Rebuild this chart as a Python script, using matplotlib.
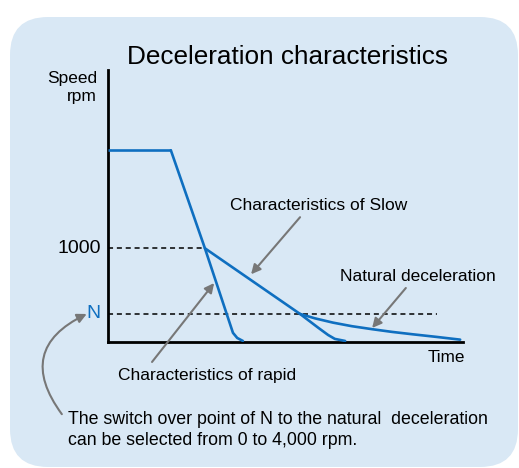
import matplotlib
matplotlib.use("Agg")
import matplotlib.pyplot as plt
from matplotlib.patches import FancyBboxPatch, FancyArrowPatch
from matplotlib.transforms import IdentityTransform

plt.rcParams['font.family'] = ['Liberation Sans', 'DejaVu Sans']

# values (time in arbitrary units 0-100, speed in rpm)
top_speed = 2050
switch_speed = 1000
n_speed = 300

flat_t = [0, 17.7]
flat_s = [top_speed, top_speed]

rapid_t = [17.7, 27.3, 35.2, 36.4, 38.0]
rapid_s = [top_speed, 1000, 95, 40, 8]

slow_t = [27.3, 54.1, 59.2, 62.0, 63.9, 66.8]
slow_s = [1000, 297, 150, 72, 30, 8]

natural_t = [54.1, 58.3, 63.4, 68.7, 74.4, 80.0, 85.9, 92.4, 99.2]
natural_s = [297, 250, 204, 166, 134, 105, 79, 52, 22]

n_dash_end = 92.6

blue = '#0f6fc0'
grey = '#777777'
bg = '#d9e8f5'

fig = plt.figure(figsize=(5.19, 4.68), dpi=100)
fig.patch.set_facecolor('white')

# rounded light blue panel (pixel coords, origin bottom left)
panel = FancyBboxPatch((10, 1), 508, 450,
                       boxstyle="round,pad=0,rounding_size=38",
                       transform=IdentityTransform(), facecolor=bg,
                       edgecolor='none', zorder=-5)
fig.patches.append(panel)

ax = fig.add_axes([108 / 519, (468 - 341.7) / 468, 355 / 519, (341.7 - 70) / 468])
ax.set_zorder(2)
ax.set_xlim(0, 100)
ax.set_ylim(0, 2909)
ax.patch.set_alpha(0)
for s in ['top', 'right']:
    ax.spines[s].set_visible(False)
for s in ['left', 'bottom']:
    ax.spines[s].set_linewidth(2.0)
    ax.spines[s].set_color('black')
ax.set_xticks([])
ax.set_yticks([])

# dashed reference lines
ax.plot([0, rapid_t[1]], [switch_speed, switch_speed], color='black', lw=1.1,
        linestyle=(0, (3.3, 2.5)), zorder=2)
ax.plot([0, n_dash_end], [n_speed, n_speed], color='black', lw=1.1,
        linestyle=(0, (3.3, 2.5)), zorder=2)

# curves
ax.plot(flat_t, flat_s, color=blue, lw=1.9, solid_capstyle='butt', zorder=3)
ax.plot(rapid_t, rapid_s, color=blue, lw=1.9, solid_capstyle='round', zorder=3)
ax.plot(slow_t, slow_s, color=blue, lw=1.9, solid_capstyle='round', zorder=3)
ax.plot(natural_t, natural_s, color=blue, lw=1.9, solid_capstyle='round', zorder=3)

# title and axis texts
fig.text(288 / 519, 1 - 57 / 468, 'Deceleration characteristics', ha='center',
         va='center', fontsize=18.8)
ax.text(-3.1, 2813, 'Speed', ha='right', va='center', fontsize=12.5)
ax.text(-3.1, 2620, 'rpm', ha='right', va='center', fontsize=12.5)
ax.text(-2.0, switch_speed, '1000', ha='right', va='center', fontsize=14)
ax.text(-2.0, n_speed, 'N', ha='right', va='center', fontsize=14, color=blue)
ax.text(95.2, -174, 'Time', ha='center', va='center', fontsize=12.3)

arrow_kw = dict(arrowstyle='-|>', color=grey, lw=1.5, mutation_scale=14,
                shrinkA=0, shrinkB=0)

ax.text(59.2, 1462, 'Characteristics of Slow', ha='center', va='center',
        fontsize=12.5)
ax.annotate('', xy=(40.3, 722), xytext=(54.1, 1333), arrowprops=arrow_kw)
ax.text(87.3, 693, 'Natural deceleration', ha='center', va='center',
        fontsize=12.5)
ax.annotate('', xy=(74.4, 147), xytext=(83.9, 575), arrowprops=arrow_kw)
ax.text(28.0, -357, 'Characteristics of rapid', ha='center', va='center',
        fontsize=12.5)
ax.annotate('', xy=(29.9, 628), xytext=(12.4, -217), arrowprops=arrow_kw,
            annotation_clip=False)

# curved arrow to N
curved = FancyArrowPatch((-13.0, -776), (-6.0, 297), connectionstyle='arc3,rad=-0.6',
                         arrowstyle='-|>', color=grey, lw=1.5, mutation_scale=14,
                         shrinkA=0, shrinkB=0, transform=ax.transData, clip_on=False)
ax.add_patch(curved)

ax.text(-11.3, -828, 'The switch over point of N to the natural  deceleration',
        ha='left', va='center', fontsize=12.8)
ax.text(-11.3, -1053, 'can be selected from 0 to 4,000 rpm.', ha='left',
        va='center', fontsize=12.8)

fig.savefig('out.png', dpi=100, facecolor=fig.get_facecolor())
